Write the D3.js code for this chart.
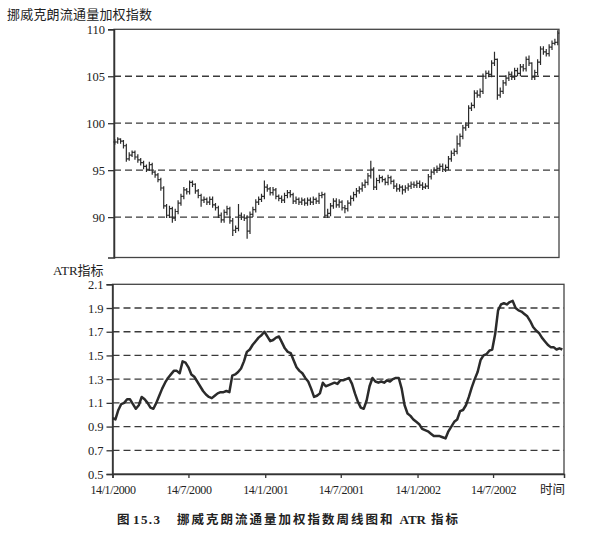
<!DOCTYPE html>
<html><head><meta charset="utf-8">
<script src="https://cdn.jsdelivr.net/npm/d3@7"></script>
<style>body{margin:0;background:#fff;} svg{display:block;}</style>
</head><body>
<svg id="c" width="608" height="535"></svg>
<script>
// Weekly price index (close, high, low), first week 14/1/2000
const closeVals = [98.0,98.3,98.1,97.6,96.2,96.6,96.9,96.4,96.1,95.8,95.4,95.1,95.6,94.8,94.5,94.0,93.1,91.2,90.2,90.9,
89.9,90.6,91.5,92.2,92.9,92.7,93.7,93.5,92.8,92.3,91.8,91.9,91.6,91.9,91.3,91.0,90.2,89.7,90.5,90.9,
89.6,88.6,88.8,90.2,90.0,89.9,88.5,90.3,90.8,91.6,91.9,92.2,93.2,93.0,92.6,92.9,92.2,92.0,91.8,92.3,
92.6,92.4,91.7,91.9,91.6,91.8,91.5,91.8,91.6,91.9,91.7,92.3,92.4,90.2,90.4,91.2,91.7,91.3,91.6,91.0,
90.9,91.5,92.0,92.4,92.8,93.0,93.4,93.7,94.4,95.1,93.2,93.9,94.2,94.0,93.7,94.2,93.8,93.3,93.0,93.2,
92.9,93.1,93.3,93.5,93.4,93.6,93.4,93.2,93.3,94.3,94.8,95.0,95.2,95.4,95.1,95.3,96.2,96.8,97.0,97.8,
98.6,99.5,99.8,101.6,101.9,103.2,103.0,103.4,105.0,105.3,105.2,106.4,106.8,103.0,103.4,104.3,104.8,105.2,104.9,105.6,
105.3,106.0,105.8,106.8,106.4,104.9,105.4,106.5,107.9,107.6,107.4,108.1,108.5,108.6,109.6];
const highVals = [98.3,98.5,98.4,98.2,97.8,96.9,97.1,97.1,96.7,96.3,96.0,95.6,95.9,95.8,95.0,94.7,94.2,93.3,91.4,91.2,
91.1,90.9,91.8,92.5,93.2,93.1,93.9,93.9,93.6,93.0,92.5,92.2,92.1,92.2,92.2,91.5,91.2,90.5,90.8,91.2,
91.1,89.9,89.1,91.4,90.5,90.3,90.2,90.6,91.1,91.9,92.2,92.5,93.9,93.5,93.2,93.2,93.1,92.4,92.3,92.6,
92.9,92.9,92.6,92.2,92.1,92.1,92.0,92.1,92.1,92.2,92.1,92.6,92.7,92.6,90.9,91.5,92.0,92.0,91.9,91.8,
91.3,91.8,92.3,92.7,93.1,93.3,93.7,94.0,94.7,96.0,95.3,94.2,94.5,94.4,94.2,94.5,94.4,94.0,93.6,93.5,
93.4,93.4,93.6,93.8,93.8,93.9,93.9,93.7,93.6,94.6,95.1,95.3,95.5,95.7,95.7,95.6,96.5,97.1,97.3,98.7,
98.9,99.8,100.1,101.9,102.2,103.5,103.5,103.7,105.3,105.6,105.6,106.7,107.6,106.9,103.8,104.6,105.1,105.5,105.5,105.9,
105.9,106.3,106.3,107.1,107.2,106.5,105.7,106.8,108.2,108.2,107.9,108.4,108.8,109.0,109.9];
const lowVals = [97.7,97.8,97.8,97.3,95.9,96.0,96.4,96.1,95.8,95.5,95.1,94.8,94.9,94.5,94.2,93.7,92.8,90.9,89.9,89.9,
89.4,89.6,90.3,91.2,91.9,92.4,92.4,93.2,92.5,92.0,91.1,91.5,91.3,91.3,91.0,90.7,89.9,89.4,89.4,90.2,
89.3,88.0,88.3,88.5,89.7,89.6,87.7,88.2,90.0,90.5,91.3,91.6,91.9,92.7,92.3,92.3,91.9,91.7,91.5,91.5,
92.0,92.1,91.4,91.4,91.3,91.3,91.2,91.2,91.3,91.3,91.4,91.4,92.0,89.9,89.9,90.1,90.9,91.0,91.0,90.7,
90.4,90.6,91.2,91.7,92.1,92.5,92.7,93.1,93.4,94.1,92.9,92.9,93.6,93.7,93.4,93.4,93.5,93.0,92.7,92.7,
92.4,92.6,92.8,93.0,93.1,93.1,93.1,92.9,93.0,93.0,94.0,94.5,94.7,94.9,94.8,94.8,95.0,95.9,96.5,96.7,
97.5,98.3,99.2,99.5,101.3,101.6,102.7,102.7,103.1,104.7,104.9,104.9,106.1,102.5,102.7,103.1,104.0,104.5,104.6,104.6,
105.0,105.0,105.5,105.5,106.1,104.6,104.6,105.1,106.2,107.3,107.1,107.1,107.8,108.3,108.3];
// ATR indicator (same weeks)
const atrVals = [0.97,0.96,1.04,1.09,1.10,1.13,1.13,1.09,1.05,1.08,1.15,1.13,1.10,1.06,1.05,1.10,1.16,1.22,1.27,1.31,
1.34,1.37,1.37,1.35,1.45,1.44,1.40,1.34,1.32,1.28,1.24,1.20,1.17,1.15,1.14,1.16,1.18,1.19,1.19,1.20,
1.19,1.33,1.34,1.36,1.39,1.45,1.53,1.55,1.59,1.62,1.65,1.67,1.70,1.66,1.62,1.63,1.65,1.66,1.61,1.56,
1.53,1.52,1.46,1.40,1.37,1.35,1.31,1.28,1.22,1.15,1.16,1.18,1.27,1.24,1.25,1.26,1.27,1.26,1.29,1.29,
1.30,1.31,1.26,1.18,1.11,1.06,1.05,1.12,1.24,1.31,1.28,1.27,1.28,1.27,1.29,1.28,1.30,1.31,1.31,1.22,
1.08,1.01,0.99,0.96,0.94,0.92,0.88,0.87,0.86,0.84,0.82,0.82,0.82,0.81,0.80,0.86,0.90,0.94,0.96,1.03,
1.04,1.08,1.15,1.23,1.30,1.36,1.46,1.50,1.51,1.54,1.55,1.68,1.88,1.93,1.94,1.93,1.95,1.96,1.90,1.88,
1.87,1.85,1.83,1.79,1.74,1.71,1.69,1.65,1.62,1.59,1.57,1.57,1.55,1.56,1.55];
const priceTicks = [90,95,100,105,110];
const atrTicks = [0.5,0.7,0.9,1.1,1.3,1.5,1.7,1.9,2.1];
const xTickLabels = ["14/1/2000","14/7/2000","14/1/2001","14/7/2001","14/1/2002","14/7/2002"];

const parse = d3.timeParse("%d/%m/%Y");
const start = parse("14/1/2000");
const dates = closeVals.map((_, i) => d3.timeDay.offset(start, 7 * i));

const svg = d3.select("#c");
const ink = "#2b2b2b";
const serif = '"Liberation Serif","DejaVu Serif",serif';
const cjk = '"Noto Sans CJK SC","Noto Sans",sans-serif';

// ---------- Top chart ----------
const T = {l: 114, r: 559, t: 29.3, b: 257.5};
const xT = d3.scaleTime().domain([parse("12/1/2000"), parse("30/12/2002")]).range([T.l, T.r]);
const yT = d3.scaleLinear().domain([85.7, 110]).range([T.b, T.t]);

const gT = svg.append("g");
gT.selectAll("line.grid").data(priceTicks.filter(v => v < 110)).join("line")
  .attr("x1", T.l).attr("x2", T.r).attr("y1", d => yT(d)).attr("y2", d => yT(d))
  .attr("stroke", "#3a3a3a").attr("stroke-width", 1.3).attr("stroke-dasharray", "7,4");
gT.append("rect").attr("x", T.l).attr("y", T.t).attr("width", T.r - T.l).attr("height", T.b - T.t)
  .attr("fill", "none").attr("stroke", "#444").attr("stroke-width", 1.3);
const axT = gT.append("g").attr("transform", `translate(${T.l},0)`)
  .call(d3.axisLeft(yT).tickValues(priceTicks).tickSize(6).tickPadding(3).tickFormat(d3.format("d")));
axT.attr("font-family", null);
axT.select(".domain").attr("stroke", "#333").attr("stroke-width", 1.5);
axT.selectAll(".tick line").attr("stroke", "#333").attr("stroke-width", 1.3);
axT.selectAll("text").style("font-family", serif).style("font-size", "12.5px").attr("fill", "#222");

const bars = gT.append("g").attr("stroke", ink).attr("stroke-width", 1.2).attr("fill", "none");
closeVals.forEach((c, i) => {
  const x = xT(dates[i]);
  const o = i > 0 ? closeVals[i - 1] : c;
  bars.append("path").attr("d",
    `M${x},${yT(highVals[i])}V${yT(lowVals[i])}` +
    `M${x - 1.5},${yT(o)}H${x}` +
    `M${x},${yT(c)}H${x + 1.5}`);
});

svg.append("text").attr("x", 7).attr("y", 19).style("font-family", cjk).style("font-size", "13px")
  .attr("textLength", 145).attr("lengthAdjust", "spacing").attr("fill", "#222")
  .text("挪威克朗流通量加权指数");

// ---------- Bottom chart ----------
const B = {l: 112.5, r: 564, t: 284.3, b: 474};
const xB = d3.scaleTime().domain([parse("14/1/2000"), parse("31/12/2002")]).range([B.l, B.r]);
const yB = d3.scaleLinear().domain([0.5, 2.1]).range([B.b, B.t]);

const gB = svg.append("g");
gB.selectAll("line.grid").data(atrTicks.filter(v => v > 0.5 && v < 2.1)).join("line")
  .attr("x1", B.l).attr("x2", B.r).attr("y1", d => yB(d)).attr("y2", d => yB(d))
  .attr("stroke", "#3a3a3a").attr("stroke-width", 1.3).attr("stroke-dasharray", "7,4");
gB.append("rect").attr("x", B.l).attr("y", B.t).attr("width", B.r - B.l).attr("height", B.b - B.t)
  .attr("fill", "none").attr("stroke", "#444").attr("stroke-width", 1.3);
const axB = gB.append("g").attr("transform", `translate(${B.l},0)`)
  .call(d3.axisLeft(yB).tickValues(atrTicks).tickSize(6).tickPadding(3).tickFormat(d3.format(".1f")));
axB.attr("font-family", null);
axB.select(".domain").attr("stroke", "#333").attr("stroke-width", 1.5);
axB.selectAll(".tick line").attr("stroke", "#333").attr("stroke-width", 1.3);
axB.selectAll("text").style("font-family", serif).style("font-size", "12.5px").attr("fill", "#222");

const axX = gB.append("g").attr("transform", `translate(0,${B.b})`)
  .call(d3.axisBottom(xB).tickValues(xTickLabels.map(parse)).tickSize(4).tickPadding(7)
    .tickFormat((d, i) => xTickLabels[i]));
axX.attr("font-family", null);
axX.select(".domain").attr("stroke", "#333").attr("stroke-width", 1.5);
axX.selectAll(".tick line").attr("stroke", "#333").attr("stroke-width", 1.3);
axX.selectAll("text").style("font-family", serif).style("font-size", "12px").attr("fill", "#222")
  .style("letter-spacing", "-0.4px");

gB.append("path").datum(atrVals)
  .attr("d", d3.line().x((d, i) => xB(dates[i])).y(d => yB(d)))
  .attr("fill", "none").attr("stroke", ink).attr("stroke-width", 2.5).attr("stroke-linejoin", "round");

const atrLab = svg.append("text").attr("x", 53).attr("y", 275).attr("fill", "#222");
atrLab.append("tspan").style("font-family", serif).style("font-size", "13px").text("ATR");
atrLab.append("tspan").style("font-family", cjk).style("font-size", "13px").text("指标");
svg.append("text").attr("x", 540).attr("y", 494).style("font-family", cjk).style("font-size", "12.5px")
  .attr("fill", "#222").text("时间");

// ---------- Caption ----------
svg.append("text").attr("x", 117).attr("y", 524).style("font-family", cjk).style("font-size", "12.5px")
  .attr("font-weight", "bold").attr("fill", "#222").text("图");
svg.append("text").attr("x", 133).attr("y", 524).style("font-family", serif).style("font-size", "13px")
  .attr("font-weight", "bold").attr("fill", "#222").attr("textLength", 27).attr("lengthAdjust", "spacing").text("15.3");
const cap = svg.append("text").attr("x", 177).attr("y", 524).style("font-size", "12.5px")
  .attr("font-weight", "bold").attr("fill", "#222");
cap.append("tspan").style("font-family", cjk).style("letter-spacing", "2px").text("挪威克朗流通量加权指数周线图和");
cap.append("tspan").style("font-family", serif).style("font-size", "13px").attr("dx", 5).text("ATR");
cap.append("tspan").style("font-family", cjk).style("letter-spacing", "2px").attr("dx", 5).text("指标");
</script>
</body></html>
